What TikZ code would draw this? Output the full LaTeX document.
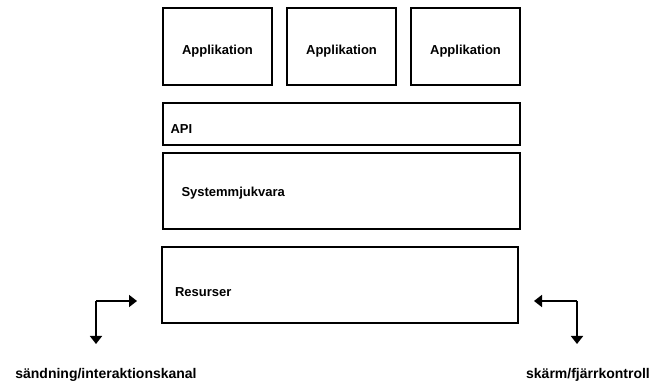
\documentclass[tikz,border=0pt]{standalone}
\usepackage{fontspec}
\setmainfont{Liberation Sans}
\usetikzlibrary{arrows.meta}
\begin{document}
\begin{tikzpicture}[x=1pt,y=-1pt,
  box/.style={draw=black, line width=1.8pt, fill=white, inner sep=0pt},
  boxtxt/.style={font=\fontsize{13}{15}\selectfont\bfseries},
  lbl/.style={font=\fontsize{14}{16}\selectfont\bfseries, inner sep=0pt},
  arr/.style={line width=1.7pt, -{Triangle[length=8pt,width=12pt]}}]
\useasboundingbox (0,0) rectangle (659,387);
% application boxes
\node[box, boxtxt, minimum width=109pt, minimum height=77pt, text height=19pt, text depth=3pt] (app1) at (217.5,46.5) {Applikation};
\node[box, boxtxt, minimum width=109pt, minimum height=77pt, text height=19pt, text depth=3pt] (app2) at (341.5,46.5) {Applikation};
\node[box, boxtxt, minimum width=109pt, minimum height=77pt, text height=19pt, text depth=3pt] (app3) at (465.5,46.5) {Applikation};
% layers
\node[box, boxtxt, minimum width=357pt, minimum height=42pt, text width=342pt, align=left, text height=22pt, text depth=3pt] (api) at (341.5,124) {API};
\node[box, boxtxt, minimum width=357pt, minimum height=76pt, text width=320pt, align=left, text height=14pt, text depth=3pt] (sys) at (341.5,191) {Systemmjukvara};
\node[box, boxtxt, minimum width=356pt, minimum height=76pt, text width=330pt, align=left, text height=26pt, text depth=3pt] (res) at (340,285) {Resurser};
% left arrows
\coordinate (lc) at (96,301);
\coordinate (lt) at (137,301);
\coordinate (ld) at (96,344);
\draw[arr] (lc) -- (lt);
\draw[arr] (lc) -- (ld);
% right arrows
\coordinate (rc) at (577,301);
\coordinate (rt) at (534,301);
\coordinate (rd) at (577,344);
\draw[arr] (rc) -- (rt);
\draw[arr] (rc) -- (rd);
% labels
\node[lbl] (ll) at (106,375) {sändning/interaktionskanal};
\node[lbl] (rl) at (588,375) {skärm/fjärrkontroll};
\end{tikzpicture}
\end{document}
